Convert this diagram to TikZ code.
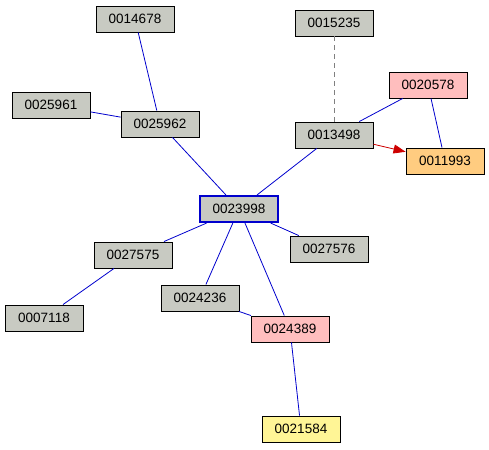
\documentclass[tikz,border=0pt]{standalone}
\usepackage{fontspec}
\setmainfont{Liberation Sans}
\usetikzlibrary{arrows.meta}

\definecolor{boxgray}{RGB}{200, 202, 194}
\definecolor{boxpink}{RGB}{255, 190, 190}
\definecolor{boxorange}{RGB}{255, 204, 128}
\definecolor{boxyellow}{RGB}{255, 245, 150}
\definecolor{edgeblue}{RGB}{0, 0, 205}
\definecolor{edgered}{RGB}{205, 0, 0}

\begin{document}
\begin{tikzpicture}[x=1pt, y=-1pt, line width=0.9pt,
        item/.style={rectangle, draw=black, fill=boxgray, minimum width=78pt, minimum height=26pt,
                     inner sep=0pt, font=\fontsize{13.5}{16}\selectfont},
        link/.style={draw=edgeblue, line width=0.8pt},
        hint/.style={draw=gray, dashed, dash pattern=on 5pt off 4pt, line width=0.8pt}]

    \useasboundingbox (0,0) rectangle (489,449);

    % --- węzły górne ---
    \node[item] (n14678) at (135,19)  {0014678};
    \node[item] (n15235) at (334,23)  {0015235};
    \node[item] (n25961) at (51,105)  {0025961};
    \node[item] (n25962) at (160,124) {0025962};
    \node[item, fill=boxpink] (n20578) at (428,85) {0020578};
    \node[item] (n13498) at (334,135) {0013498};
    \node[item, fill=boxorange] (n11993) at (445,161) {0011993};

    % --- węzeł centralny ---
    \node[item, draw=edgeblue, line width=2.2pt] (n23998) at (239,209) {0023998};

    % --- węzły dolne ---
    \node[item] (n27575) at (133,255) {0027575};
    \node[item] (n27576) at (329,249) {0027576};
    \node[item] (n24236) at (200,298) {0024236};
    \node[item, fill=boxpink] (n24389) at (290,329) {0024389};
    \node[item] (n07118) at (44,318)  {0007118};
    \node[item, fill=boxyellow] (n21584) at (301,429) {0021584};

    % --- krawędzie górne ---
    \draw[link] (n14678) -- (n25962);
    \draw[link] (n25961) -- (n25962);
    \draw[link] (n25962) -- (n23998);
    \draw[link] (n13498) -- (n23998);
    \draw[hint] (n15235) -- (n13498);
    \draw[link] (n20578) -- (n13498);
    \draw[link] (n20578) -- (n11993);
    \draw[draw=edgered, line width=0.8pt, -{Triangle[length=12pt, width=9pt]}, edgered] (n13498) -- (n11993);

    % --- krawędzie dolne ---
    \draw[link] (n23998) -- (n27575);
    \draw[link] (n23998) -- (n27576);
    \draw[link] (n23998) -- (n24236);
    \draw[link] (n23998) -- (n24389);
    \draw[link] (n27575) -- (n07118);
    \draw[link] (n24236) -- (n24389);
    \draw[link] (n24389) -- (n21584);

\end{tikzpicture}
\end{document}
